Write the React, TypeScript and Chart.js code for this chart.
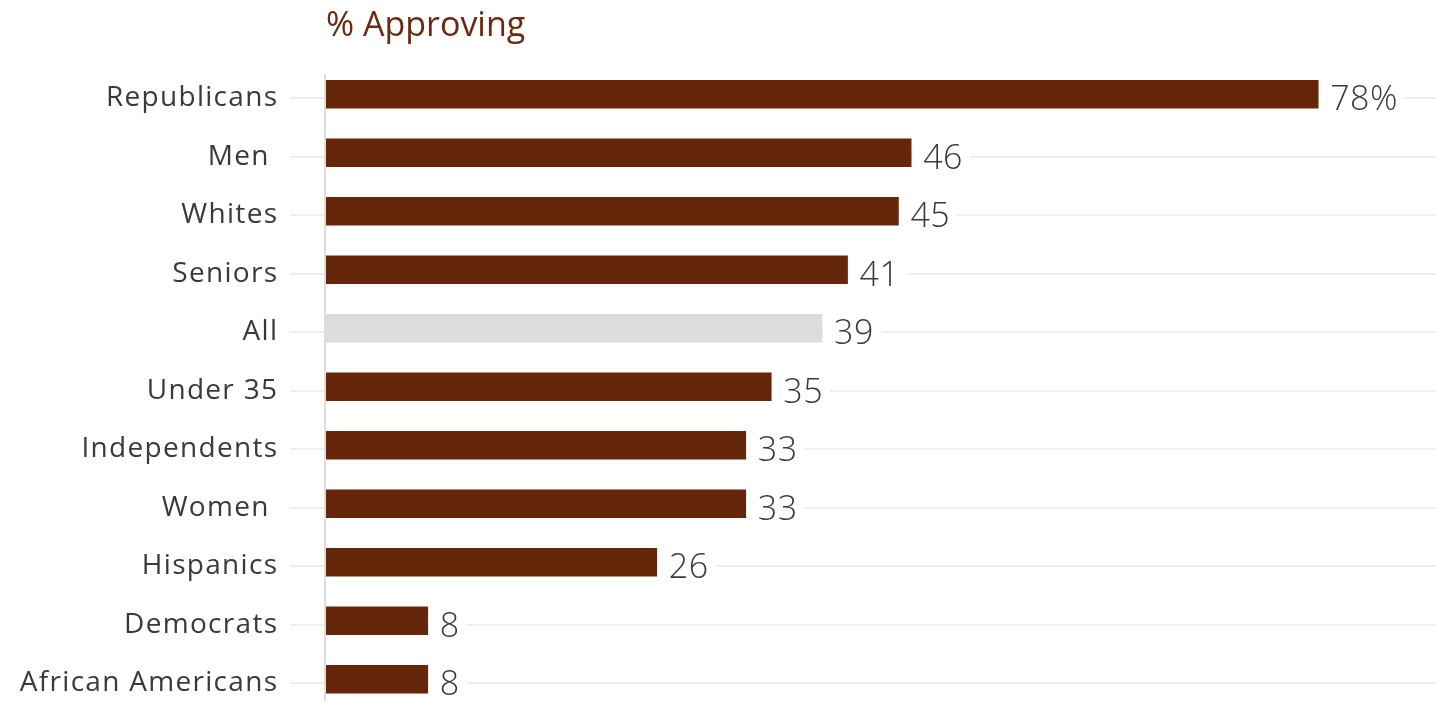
import React, { useEffect, useRef } from "react";
import { Chart, registerables } from "chart.js";

Chart.register(...registerables);

const categories = [
  "Republicans",
  "Men ",
  "Whites",
  "Seniors",
  "All",
  "Under 35",
  "Independents",
  "Women ",
  "Hispanics",
  "Democrats",
  "African Americans",
];
const approving = [78, 46, 45, 41, 39, 35, 33, 33, 26, 8, 8];
const valueLabels = ["78%", "46", "45", "41", "39", "35", "33", "33", "26", "8", "8"];
const highlightCategory = "All";
const chartTitle = "% Approving";

const FONT = "'Open Sans', Lato, sans-serif";
const BAR_COLOR = "#65260a";
const HIGHLIGHT_COLOR = "#dcdcdc";
const TEXT_COLOR = "#3a3a3a";
const TITLE_COLOR = "#6b2a10";

export default function App() {
  const canvasRef = useRef<HTMLCanvasElement | null>(null);

  useEffect(() => {
    document.body.style.margin = "0";
    document.body.style.overflow = "hidden";
    const canvas = canvasRef.current;
    if (!canvas) return;

    const customPlugin = {
      id: "customDecor",
      beforeDatasetsDraw(chart: any) {
        const { ctx, chartArea, scales } = chart;
        const y = scales.y;
        ctx.save();
        ctx.strokeStyle = "#eeeeee";
        ctx.lineWidth = 2;
        categories.forEach((_, i) => {
          const py = Math.round(y.getPixelForValue(i) + 4);
          ctx.beginPath();
          ctx.moveTo(290, py);
          ctx.lineTo(chartArea.right, py);
          ctx.stroke();
        });
        ctx.strokeStyle = "#dddddd";
        ctx.lineWidth = 2;
        ctx.beginPath();
        ctx.moveTo(chartArea.left - 1, 74);
        ctx.lineTo(chartArea.left - 1, chart.height);
        ctx.stroke();

        // category labels
        ctx.font = `400 28px ${FONT}`;
        (ctx as any).letterSpacing = "1.3px";
        ctx.fillStyle = TEXT_COLOR;
        ctx.textAlign = "left";
        ctx.textBaseline = "alphabetic";
        categories.forEach((c, i) => {
          const py = Math.round(y.getPixelForValue(i) + 4);
          const w = ctx.measureText(c).width - 1.3;
          ctx.fillText(c, 277 - w, py + 8);
        });
        ctx.restore();
      },
      afterDatasetsDraw(chart: any) {
        const { ctx } = chart;
        const meta = chart.getDatasetMeta(0);
        ctx.save();
        ctx.font = `300 34px ${FONT}`;
        (ctx as any).letterSpacing = "0.5px";
        ctx.textBaseline = "alphabetic";
        ctx.textAlign = "left";
        meta.data.forEach((bar: any, i: number) => {
          const text = valueLabels[i];
          const tx = bar.x + 12;
          const gy = Math.round(bar.y + 4);
          const w = ctx.measureText(text).width;
          ctx.fillStyle = "#ffffff";
          ctx.fillRect(bar.x + 1, gy - 6, tx + w + 7 - (bar.x + 1), 12);
          ctx.fillStyle = TEXT_COLOR;
          ctx.fillText(text, tx, gy + 12);
        });
        ctx.font = `400 34px ${FONT}`;
        (ctx as any).letterSpacing = "0px";
        ctx.fillStyle = TITLE_COLOR;
        ctx.fillText(chartTitle, 326, 36);
        ctx.restore();
      },
    };

    const chart = new Chart(canvas, {
      type: "bar",
      data: {
        labels: categories,
        datasets: [
          {
            data: approving,
            backgroundColor: categories.map((c) =>
              c === highlightCategory ? HIGHLIGHT_COLOR : BAR_COLOR
            ),
            barThickness: 28,
            borderWidth: 0,
          },
        ],
      },
      options: {
        indexAxis: "y",
        responsive: true,
        maintainAspectRatio: false,
        animation: false,
        layout: { padding: { top: 65, bottom: 3.5, left: 0, right: 3 } },
        plugins: {
          legend: { display: false },
          tooltip: { enabled: false },
          title: { display: false },
        },
        scales: {
          x: { display: false, min: 0, max: 87.26 },
          y: {
            afterFit: (s: any) => {
              s.width = 326;
            },
            grid: { display: false, drawTicks: false },
            border: { display: false },
            ticks: { display: false },
          },
        },
      },
      plugins: [customPlugin],
    });

    return () => {
      chart.destroy();
    };
  }, []);

  return (
    <div style={{ width: 1439, height: 701, overflow: "hidden" }}>
      <div style={{ position: "relative", width: 1439, height: 712 }}>
        <canvas ref={canvasRef} style={{ display: "block" }} />
      </div>
    </div>
  );
}
